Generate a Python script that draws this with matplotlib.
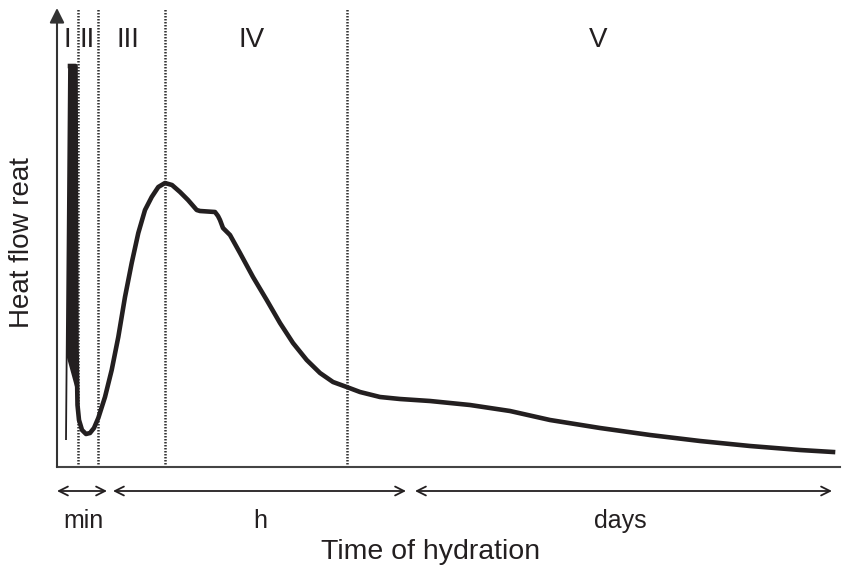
import matplotlib
matplotlib.use('Agg')
import matplotlib.pyplot as plt

# heat flow curve (arbitrary units)
spike_t = [9, 12]
spike_q = [27, 401]
# the initial peak is drawn as a solid wedge
wedge_t = [9.8, 12, 19, 19.4]
wedge_q = [110, 402, 402, 75]
time = [13, 18.5, 19, 19.5, 20.5, 22, 25, 29, 33, 37, 41.3, 48, 54.7, 61.3, 68, 74.7,
        81.3, 88, 94.7, 101.3, 108, 115, 123, 131, 139.7, 143, 158, 161, 163, 166,
        173, 183, 196, 209.7, 223, 236, 249.7, 263, 276, 289.7, 303, 323, 343, 373,
        413, 453, 493, 543, 593, 643, 693, 743, 776]
heat = [401, 401, 250, 120, 62, 47, 37, 33, 34, 39, 49, 70, 97, 130, 170, 204,
        234, 257, 270, 280, 284, 282, 275, 267, 257, 256, 255, 251, 247, 239,
        232, 214, 190, 167, 144, 124, 107, 94, 85, 80, 75, 70, 68, 66,
        62, 56, 47, 39, 32, 26, 21, 17, 15]

# stage boundaries and labels
bounds = [20.5, 41.3, 108, 290]
stages = ['I', 'II', 'III', 'IV', 'V']
stage_x = [10, 30, 71, 195, 541]

# time scale ranges
ranges = [(0, 50), (56, 349), (358, 775)]
range_labels = ['min', 'h', 'days']
range_x = [26, 203, 563]

ink = '#231f20'
font = 'Liberation Sans'

fig = plt.figure(figsize=(8.42, 5.72), dpi=100)
ax = fig.add_axes([57 / 842, 105 / 572, 783 / 842, 459 / 572])
ax.set_xlim(0, 783)
ax.set_ylim(0, 459)
for s in ['top', 'right', 'left']:
    ax.spines[s].set_visible(False)
ax.spines['bottom'].set_color('#444444')
ax.spines['bottom'].set_linewidth(1.5)
ax.set_xticks([])
ax.set_yticks([])

# y axis with arrow
ax.annotate('', xy=(0, 1), xytext=(0, 0), xycoords='axes fraction',
            arrowprops=dict(arrowstyle='-|>', lw=1.5, color='#333333',
                            mutation_scale=22, shrinkA=0, shrinkB=0))

for b in bounds:
    ax.axvline(b, color='#333333', lw=1.8, ls=(0, (0.6, 0.6)))

ax.plot(spike_t, spike_q, color=ink, lw=1.3, solid_capstyle='butt')
ax.fill(wedge_t, wedge_q, color=ink, lw=0)
ax.plot(time, heat, color=ink, lw=3.3, solid_joinstyle='round')

for lab, x in zip(stages, stage_x):
    ax.text(x, 427, lab, ha='center', va='center', fontsize=20, family=font, color=ink)

for (a, b), lab, x in zip(ranges, range_labels, range_x):
    ax.annotate('', xy=(b, -24), xytext=(a, -24), xycoords='data',
                annotation_clip=False,
                arrowprops=dict(arrowstyle='<->', lw=1.3, color=ink,
                                mutation_scale=16, shrinkA=0, shrinkB=0))
    ax.text(x, -54, lab, ha='center', va='center', fontsize=18, family=font,
            color=ink, clip_on=False)

fig.text(431 / 842, 1 - 552 / 572, 'Time of hydration', ha='center', va='center',
         fontsize=20.5, family=font, color=ink)
fig.text(22 / 842, 1 - 243 / 572, 'Heat flow reat', ha='center', va='center',
         rotation=90, fontsize=20, family=font, color=ink)

fig.savefig('out.png', dpi=100)
